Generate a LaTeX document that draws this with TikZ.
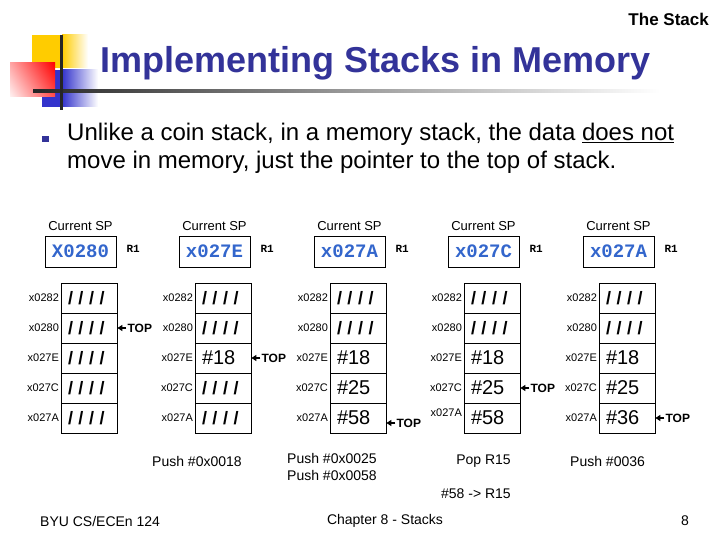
\documentclass[tikz,border=0pt]{standalone}
\usepackage{fontspec}
\setmainfont{Liberation Sans}
\newfontfamily\monobold{Liberation Mono}
\usetikzlibrary{arrows.meta,positioning,calc,shadings}
\definecolor{titelkek}{RGB}{51,51,153}
\definecolor{spkek}{RGB}{51,102,204}
\definecolor{sarga}{RGB}{255,204,0}
\definecolor{kek}{RGB}{51,51,204}
\newcommand{\per}{{\fontsize{18}{18}\selectfont\bfseries/\hspace{5.5pt}/\hspace{5.5pt}/\hspace{5.5pt}/}}
\tikzset{
  cella/.style={draw,line width=0.8pt,minimum width=56pt,minimum height=30pt,inner xsep=7pt,
    text width=42pt,align=left,font=\fontsize{20}{20}\selectfont},
  cimke/.style={inner sep=1.5pt,font=\fontsize{11}{11}\selectfont},
  spdob/.style={draw,line width=0.8pt,minimum width=71pt,minimum height=31pt,inner sep=0pt,
    text=spkek,font=\monobold\bfseries\fontsize{19}{19}\selectfont},
  felirat/.style={inner sep=1pt,font=\fontsize{13}{13}\selectfont},
  reg/.style={inner sep=0pt,font=\monobold\bfseries\fontsize{11}{11}\selectfont},
  tetej/.style={inner sep=1pt,font=\bfseries\fontsize{12}{12}\selectfont},
  nyil/.style={line width=1.3pt,-{Triangle[length=5pt,width=6pt]}},
  szov/.style={inner sep=0pt,font=\fontsize{14}{17}\selectfont},
}
\begin{document}
\begin{tikzpicture}[x=1pt,y=-1pt]
  \useasboundingbox (0,0) rectangle (720,540);
  % title decoration
  \fill[sarga] (32,35) rectangle (62,68);
  \shade[left color=sarga,right color=white] (62,35) rectangle (88,68);
  \fill[kek] (42,70) rectangle (62,107);
  \shade[left color=kek,right color=white] (62,70) rectangle (98,107);
  \shade[upper right=red,upper left=red!35,lower right=red!70,lower left=red!5] (10,63) rectangle (55,97);
  \shade[left color=black!85,right color=white,middle color=black!40] (33,89.5) rectangle (660,92.5);
  \fill[black!85] (59.5,35) rectangle (62.5,110);
  \node[anchor=base east,inner sep=0pt,font=\bfseries\fontsize{17}{17}\selectfont] (fejl) at (709,26) {The Stack};
  \node[anchor=base west,inner sep=0pt,text=titelkek,font=\bfseries\fontsize{36}{36}\selectfont] (cim) at (100,73)
    {Implementing Stacks in Memory};
  % bullet
  \fill[titelkek] (42,136) rectangle (48.5,142.5);
  \node[anchor=base west,inner sep=0pt,align=left,font=\fontsize{24}{28}\selectfont] (pont) at (67,169)
    {Unlike a coin stack, in a memory stack, the data \underline{does not}\\
     move in memory, just the pointer to the top of stack.};
  % memory stacks
  \foreach \s/\x/\emel/\tart in {1/61/0/{\per,\per,\per,\per,\per},2/195/0/{\per,\per,\#18,\per,\per},
      3/330/0/{\per,\per,\#18,\#25,\#58},4/464/5/{\per,\per,\#18,\#25,\#58},5/599/0/{\per,\per,\#18,\#25,\#36}}{
    \foreach \w [count=\r] in \tart
      \node[cella] (c-\s-\r) at (\x+28,268+30*\r) {\w};
    \foreach \a [count=\r] in {x0282,x0280,x027E,x027C,x027A}
      \node[cimke,left=0pt of c-\s-\r,yshift={\emel*(\r==5)}] (a-\s-\r) {\a};
    \node[spdob] (sp\s) at (\x+19.5,251.5) {};
    \node[felirat,above=4pt of sp\s] (cs\s) {Current SP};
    \node[reg,right=10pt of sp\s,yshift=2.5pt] (r\s) {R1};
  }
  \node at (sp1) [spdob,draw=none] {X0280};
  \node at (sp2) [spdob,draw=none] {x027E};
  \node at (sp3) [spdob,draw=none] {x027A};
  \node at (sp4) [spdob,draw=none] {x027C};
  \node at (sp5) [spdob,draw=none] {x027A};
  % TOP markers
  \node[tetej,right=9pt of c-1-2] (t1) {TOP};
  \draw[nyil] (t1) -- (c-1-2);
  \node[tetej,right=9pt of c-2-3] (t2) {TOP};
  \draw[nyil] (t2) -- (c-2-3);
  \node[tetej,anchor=west] (t3) at ($(c-3-5.east)+(9,5)$) {TOP};
  \draw[nyil] (t3.west) -- (t3.west -| c-3-5.east);
  \node[tetej,right=9pt of c-4-4] (t4) {TOP};
  \draw[nyil] (t4) -- (c-4-4);
  \node[tetej,right=9pt of c-5-5] (t5) {TOP};
  \draw[nyil] (t5) -- (c-5-5);
  % operations
  \node[szov,anchor=west] (op2) at (152,461) {Push \#0x0018};
  \node[szov,anchor=north west,align=left] (op3) at (287,453) {Push \#0x0025\\Push \#0x0058};
  \node[szov,anchor=east] (op4) at (511,461) {Pop R15};
  \node[szov,anchor=east] (op4b) at (511,494) {\#58 -> R15};
  \node[szov,anchor=west] (op5) at (570,461) {Push \#0036};
  % footer
  \node[szov,anchor=west] (lab1) at (40,521) {BYU CS/ECEn 124};
  \node[szov] (lab2) at (385,521) {Chapter 8 - Stacks};
  \node[szov,anchor=east] (lab3) at (689,521) {8};
\end{tikzpicture}
\end{document}
